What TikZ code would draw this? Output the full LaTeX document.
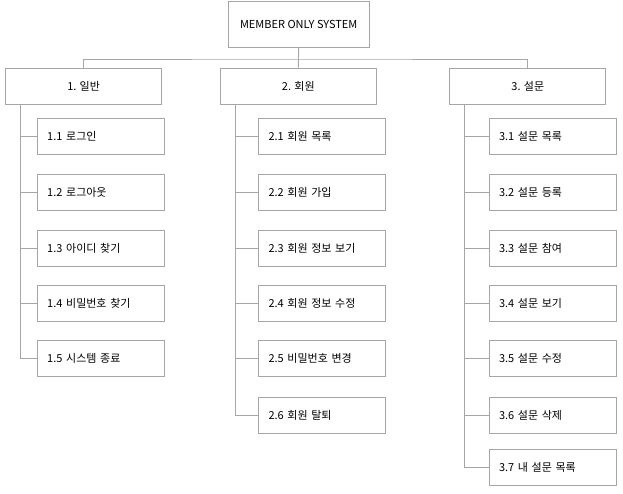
\documentclass[tikz,border=0pt]{standalone}
\usepackage{fontspec}
\setmainfont{Noto Sans CJK KR}
\definecolor{linegray}{RGB}{166,166,166}
\begin{document}
\begin{tikzpicture}[x=1pt,y=-1pt]

\tikzstyle{box}=[draw=linegray, line width=0.9pt, inner sep=0pt, font=\fontsize{11}{13}\selectfont]
\tikzstyle{top box}=[box, minimum width=141pt, minimum height=46pt]
\tikzstyle{menu box}=[box, minimum width=156pt, minimum height=36pt]
\tikzstyle{item box}=[box, text width=107pt, inner xsep=10pt, minimum height=36pt, align=left]
\tikzstyle{link}=[draw=linegray, line width=0.9pt]

\useasboundingbox (0,0) rectangle (623,494);

\node[top box] (sys) at (298.7,24) {MEMBER ONLY SYSTEM};
\node[menu box] (general) at (83.6,86) {1. 일반};
\node[menu box] (member) at (298.3,86) {2. 회원};
\node[menu box] (survey) at (527.8,86) {3. 설문};

% top level connectors
\coordinate (bus) at (298.5,59);
\draw[link] (sys.south) -- (member.north);
\draw[link] (general.north) |- (bus) -| (survey.north);

% trunks under each menu
\coordinate (gen trunk) at ([xshift=15pt]general.south west);
\coordinate (mem trunk) at ([xshift=16pt]member.south west);
\coordinate (sur trunk) at ([xshift=15.4pt]survey.south west);

\foreach \txt/\y [count=\i] in {로그인/136, 로그아웃/192, 아이디 찾기/248, 비밀번호 찾기/303, 시스템 종료/358}
{
  \node[item box] (gen\i) at (100.7,\y) {1.\i\ \txt};
  \draw[link] (gen trunk) |- (gen\i.west);
}

\foreach \txt/\y [count=\i] in {회원 목록/136, 회원 가입/192, 회원 정보 보기/248, 회원 정보 수정/303, 비밀번호 변경/358, 회원 탈퇴/415}
{
  \node[item box] (mem\i) at (322,\y) {2.\i\ \txt};
  \draw[link] (mem trunk) |- (mem\i.west);
}

\foreach \txt/\y [count=\i] in {설문 목록/136, 설문 등록/192, 설문 참여/248, 설문 보기/303, 설문 수정/358, 설문 삭제/415, 내 설문 목록/467}
{
  \node[item box] (sur\i) at (552.5,\y) {3.\i\ \txt};
  \draw[link] (sur trunk) |- (sur\i.west);
}
\end{tikzpicture}
\end{document}
